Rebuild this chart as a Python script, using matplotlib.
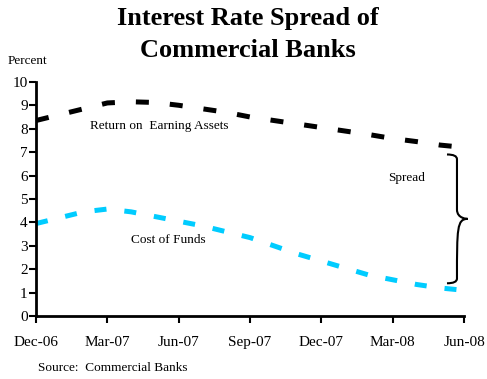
import matplotlib.pyplot as plt
import numpy as np
from matplotlib.path import Path
from matplotlib.patches import PathPatch

# Monthly series, Dec-06 to Jun-08 (percent)
months = ['Dec-06', 'Jan-07', 'Feb-07', 'Mar-07', 'Apr-07', 'May-07', 'Jun-07',
          'Jul-07', 'Aug-07', 'Sep-07', 'Oct-07', 'Nov-07', 'Dec-07',
          'Jan-08', 'Feb-08', 'Mar-08', 'Apr-08', 'May-08', 'Jun-08']
return_on_assets = [8.35, 8.6, 8.85, 9.1, 9.15, 9.12, 9.0, 8.85, 8.7, 8.5,
                    8.35, 8.2, 8.05, 7.9, 7.75, 7.58, 7.45, 7.3, 7.2]
cost_of_funds = [3.95, 4.2, 4.45, 4.57, 4.45, 4.25, 4.05, 3.85, 3.6, 3.35,
                 3.0, 2.65, 2.35, 2.05, 1.75, 1.55, 1.35, 1.2, 1.1]
tick_labels = ['Dec-06', 'Mar-07', 'Jun-07', 'Sep-07', 'Dec-07', 'Mar-08', 'Jun-08']

plt.rcParams['font.family'] = ['Liberation Serif', 'DejaVu Serif']

x = np.arange(len(months))

fig = plt.figure(figsize=(4.87, 3.79), dpi=100)
ax = fig.add_axes([0.074, 0.166, 0.879, 0.618])

ax.plot(x, return_on_assets, color='black', linewidth=3.6,
        dashes=(2.6, 4.2), dash_capstyle='butt')
ax.plot(x, cost_of_funds, color='#00CCFF', linewidth=3.6,
        dashes=(2.4, 3.6), dash_capstyle='butt')

ax.text(5.2, 8.1, 'Return on  Earning Assets', fontsize=9.5,
        ha='center', va='center')
ax.text(5.55, 3.25, 'Cost of Funds', fontsize=9.5, ha='center', va='center')

# curly brace marking the spread at the last month
top = return_on_assets[-1] - 0.3
bot = cost_of_funds[-1] + 0.3
mid = (top + bot) / 2
xl, xv, xt = x[-1] - 0.72, x[-1] - 0.3, x[-1] + 0.15
verts = [(xl, top), (xv, top), (xv, top - 0.2),
         (xv, mid + 0.4),
         (xv, mid), (xt, mid), (xt, mid),
         (xv, mid), (xv, mid - 0.4),
         (xv, bot + 0.2),
         (xv, bot), (xl, bot)]
codes = [Path.MOVETO, Path.CURVE3, Path.CURVE3,
         Path.LINETO,
         Path.CURVE4, Path.CURVE4, Path.CURVE4,
         Path.CURVE4, Path.CURVE4, Path.CURVE4,
         Path.CURVE3, Path.CURVE3]
ax.add_patch(PathPatch(Path(verts, codes), facecolor='none',
                       edgecolor='black', linewidth=1.5, clip_on=False))
ax.text(15.6, 5.9, 'Spread', fontsize=9.5, ha='center', va='center')

ax.set_xlim(0, len(months) - 1)
ax.set_ylim(0, 10)
ax.set_yticks(range(0, 11))
ax.set_xticks(x[::3])
ax.set_xticklabels(tick_labels)
ax.tick_params(axis='both', labelsize=11, width=1.5, length=5, direction='out')
ax.tick_params(axis='x', pad=9)
ax.tick_params(axis='y', pad=1)
for side in ['top', 'right']:
    ax.spines[side].set_visible(False)
for side in ['left', 'bottom']:
    ax.spines[side].set_linewidth(2)

fig.text(0.508, 0.982, 'Interest Rate Spread of\nCommercial Banks',
         fontsize=19, fontweight='bold', ha='center', va='top',
         linespacing=1.5)
fig.text(0.016, 0.84, 'Percent', fontsize=9.5, ha='left', va='center')
fig.text(0.078, 0.03, 'Source:  Commercial Banks', fontsize=9.5,
         ha='left', va='center')

fig.savefig('out.png', dpi=100)
